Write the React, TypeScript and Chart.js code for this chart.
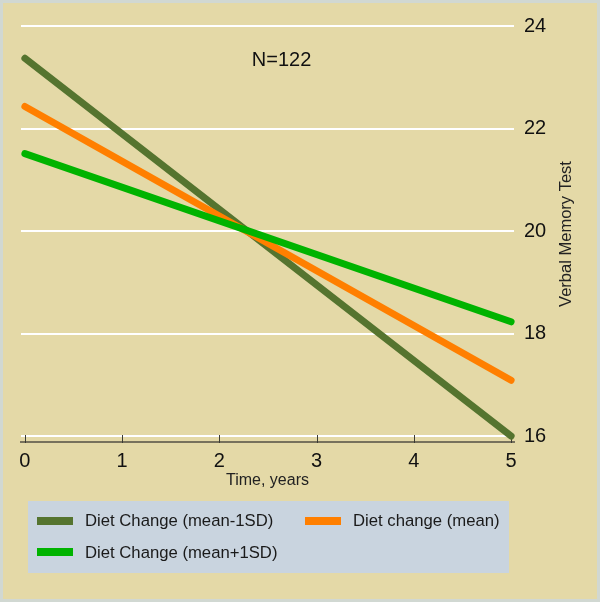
import React, { useEffect, useRef } from "react";
import { Chart, registerables } from "chart.js";

Chart.register(...registerables);

// ---- data ----
const years = [0, 5];
const dietMinus1SD = [23.37, 16.0];
const dietMean = [22.43, 17.09];
const dietPlus1SD = [21.51, 18.23];
const seriesLabels = ["Diet Change (mean-1SD)", "Diet change (mean)", "Diet Change (mean+1SD)"];
const seriesColors = ["#55742f", "#ff7f00", "#00b300"];
const xTicks = [0, 1, 2, 3, 4, 5];
const yTicks = [16, 18, 20, 22, 24];
const xTitle = "Time, years";
const yTitle = "Verbal Memory Test";
const noteText = "N=122";
const noteAt = [2.64, 23.33];

const FONT = "'Liberation Sans', Arial, Helvetica, sans-serif";
const BG = "#e4d9a7";

const toPoints = (ys: number[]) => years.map((x, i) => ({ x, y: ys[i] }));

const bgPlugin = {
  id: "bgFrame",
  beforeDraw(chart: any) {
    const { ctx, width, height } = chart;
    ctx.save();
    ctx.fillStyle = BG;
    ctx.fillRect(0, 0, width, height);
    ctx.strokeStyle = "#d1d8d2";
    ctx.lineWidth = 3;
    ctx.strokeRect(1.5, 1.5, width - 3, height - 3);
    ctx.restore();
  },
};

const tickMarksPlugin = {
  id: "tickMarks",
  beforeDatasetsDraw(chart: any) {
    const { ctx, chartArea } = chart;
    const xs = chart.scales.x;
    ctx.save();
    ctx.strokeStyle = "#3a3a34";
    ctx.lineWidth = 1;
    xTicks.forEach((v) => {
      const px = Math.round(xs.getPixelForValue(v)) + 0.5;
      ctx.beginPath();
      ctx.moveTo(px, chartArea.bottom - 7);
      ctx.lineTo(px, chartArea.bottom + 1);
      ctx.stroke();
    });
    ctx.restore();
  },
};

const textPlugin = {
  id: "extraText",
  afterDraw(chart: any) {
    const { ctx, chartArea } = chart;
    const xs = chart.scales.x;
    const ys = chart.scales.y;
    ctx.save();
    // note
    ctx.fillStyle = "#111";
    ctx.font = `20px ${FONT}`;
    ctx.textAlign = "center";
    ctx.textBaseline = "middle";
    ctx.fillText(noteText, xs.getPixelForValue(noteAt[0]), ys.getPixelForValue(noteAt[1]));
    // y title, reading bottom to top
    ctx.font = `16.5px ${FONT}`;
    ctx.fillStyle = "#222";
    ctx.translate(566, (chartArea.top + chartArea.bottom) / 2);
    ctx.rotate(-Math.PI / 2);
    ctx.fillText(yTitle, 0, 0);
    ctx.restore();

    // legend
    ctx.save();
    ctx.fillStyle = "#c9d4df";
    ctx.fillRect(28, 501, 481, 72);
    const slots = [
      { sx: 37, sy: 517, tx: 85, ty: 521.5 },
      { sx: 305, sy: 517, tx: 353, ty: 521.5 },
      { sx: 37, sy: 548, tx: 85, ty: 553 },
    ];
    ctx.font = `16.7px ${FONT}`;
    ctx.textAlign = "left";
    ctx.textBaseline = "middle";
    chart.data.datasets.forEach((ds: any, i: number) => {
      const s = slots[i];
      ctx.fillStyle = ds.borderColor;
      ctx.fillRect(s.sx, s.sy, 36, 8);
      ctx.fillStyle = "#1a1a1a";
      ctx.fillText(ds.label, s.tx, s.ty);
    });
    ctx.restore();
  },
};

export default function App() {
  const ref = useRef<HTMLCanvasElement | null>(null);

  useEffect(() => {
    if (!ref.current) return;
    const chart = new Chart(ref.current, {
      type: "line",
      data: {
        datasets: [
          { label: seriesLabels[0], data: toPoints(dietMinus1SD), borderColor: seriesColors[0], backgroundColor: seriesColors[0], order: 3 },
          { label: seriesLabels[1], data: toPoints(dietMean), borderColor: seriesColors[1], backgroundColor: seriesColors[1], order: 2 },
          { label: seriesLabels[2], data: toPoints(dietPlus1SD), borderColor: seriesColors[2], backgroundColor: seriesColors[2], order: 1 },
        ].map((d) => ({ ...d, borderWidth: 7, borderCapStyle: "round" as const, pointRadius: 0, clip: false as any, tension: 0 })),
      },
      options: {
        animation: false,
        responsive: false,
        maintainAspectRatio: false,
        layout: { padding: { left: 21, top: 26, right: 0, bottom: 113 } },
        plugins: { legend: { display: false }, tooltip: { enabled: false } },
        scales: {
          x: {
            type: "linear",
            min: -0.04,
            max: 5.03,
            afterBuildTicks: (s: any) => {
              s.ticks = xTicks.map((v) => ({ value: v }));
            },
            afterFit: (s: any) => {
              s.height = 47;
            },
            ticks: { color: "#111", font: { size: 20, family: FONT }, padding: 7, maxRotation: 0, autoSkip: false },
            grid: { display: true, drawOnChartArea: false, drawTicks: false },
            border: { display: true, color: "#77715c", width: 2 },
            title: { display: true, text: xTitle, color: "#222", font: { size: 16, family: FONT, lineHeight: 1 }, padding: 0 },
          },
          y: {
            type: "linear",
            position: "right",
            min: 15.885,
            max: 24,
            afterBuildTicks: (s: any) => {
              s.ticks = yTicks.map((v) => ({ value: v }));
            },
            afterFit: (s: any) => {
              s.width = 86;
            },
            ticks: { color: "#111", font: { size: 20, family: FONT }, padding: 10 },
            grid: { color: "#ffffff", lineWidth: 2, drawTicks: false },
            border: { display: false },
          },
        },
      },
      plugins: [bgPlugin, tickMarksPlugin, textPlugin],
    });
    return () => chart.destroy();
  }, []);

  return (
    <div style={{ position: "absolute", left: 0, top: 0, width: 600, height: 602 }}>
      <canvas ref={ref} width={600} height={602} style={{ display: "block", width: 600, height: 602 }} />
    </div>
  );
}
